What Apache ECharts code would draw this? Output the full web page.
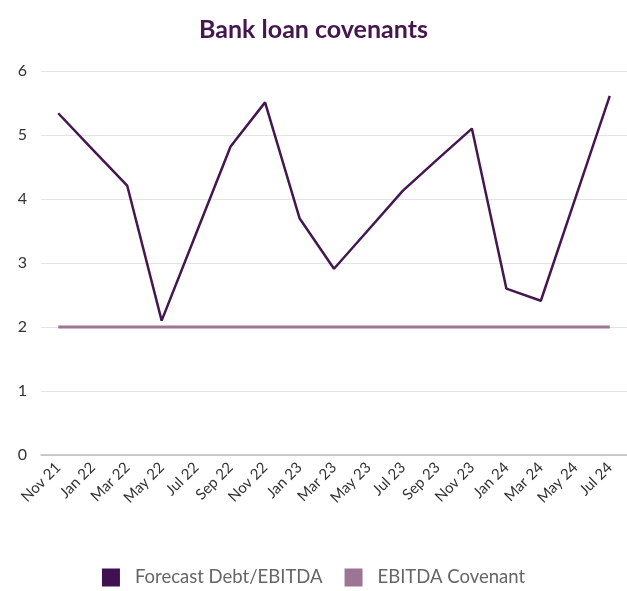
<!DOCTYPE html>
<html><head><meta charset="utf-8">
<script src="https://cdn.jsdelivr.net/npm/echarts@6/dist/echarts.min.js"></script>
<style>html,body{margin:0;padding:0;background:#fff}#c{width:627px;height:591px}</style>
</head><body><div id="c"></div>
<script>
const categories = ['Nov 21','Jan 22','Mar 22','May 22','Jul 22','Sep 22','Nov 22','Jan 23','Mar 23','May 23','Jul 23','Sep 23','Nov 23','Jan 24','Mar 24','May 24','Jul 24'];
const forecastDebtEbitda = [5.34,4.77,4.21,2.10,3.46,4.82,5.51,3.70,2.91,3.52,4.13,4.62,5.10,2.60,2.41,4.01,5.61];
const ebitdaCovenant = [2,2,2,2,2,2,2,2,2,2,2,2,2,2,2,2,2];
const yTicks = [0,1,2,3,4,5,6];

const chart = echarts.init(document.getElementById('c'));
chart.setOption({
  animation:false,
  title:{text:'Bank loan covenants',left:'center',top:12,textStyle:{fontFamily:'Lato',fontWeight:'bold',fontSize:25,color:'#44174f'}},
  grid:{left:41,right:-2,top:71,bottom:136,containLabel:false},
  legend:{bottom:-1,left:'center',itemWidth:18,itemHeight:18,itemGap:22,icon:'rect',
    textStyle:{fontFamily:'Lato',fontSize:18.5,color:'#666',padding:[0,0,0,10]},
    data:['Forecast Debt/EBITDA','EBITDA Covenant']},
  xAxis:{type:'category',data:categories,boundaryGap:true,
    axisLine:{lineStyle:{color:'#bdbdbd',width:1.5}},axisTick:{show:false},
    axisLabel:{rotate:45,fontFamily:'Lato',fontSize:15,color:'#333',margin:10,interval:0}},
  yAxis:{type:'value',min:yTicks[0],max:yTicks[yTicks.length-1],interval:1,
    axisLine:{show:false},axisTick:{show:false},
    axisLabel:{fontFamily:'Lato',fontSize:16,color:'#333',margin:14},
    splitLine:{lineStyle:{color:'#e3e3e3',width:1.2}}},
  series:[
    {name:'Forecast Debt/EBITDA',type:'line',data:forecastDebtEbitda,symbol:'none',
      lineStyle:{color:'#44174f',width:2.5},itemStyle:{color:'#3f1150'},z:3},
    {name:'EBITDA Covenant',type:'line',data:ebitdaCovenant,symbol:'none',
      lineStyle:{color:'#9b7593',width:3},itemStyle:{color:'#9b7593'},z:2}
  ]
});
</script></body></html>
